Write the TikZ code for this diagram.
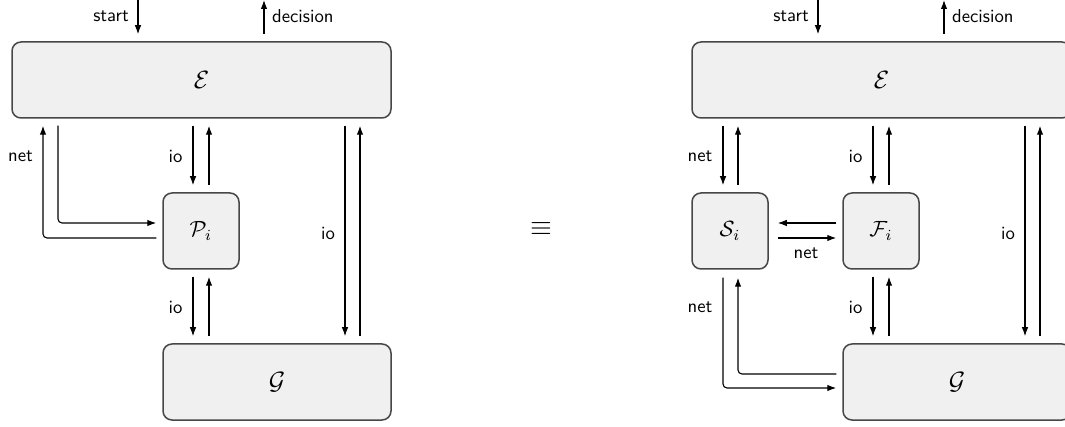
\documentclass[tikz,border=0pt]{standalone}
\usepackage{graphicx}
\usetikzlibrary{arrows.meta,calc}
\newcommand{\lbltext}[1]{\scalebox{1.87}{\sffamily #1}}
\newcommand{\boxmath}[1]{\scalebox{2.2}{$#1$}}
\newcommand{\bigmath}[1]{\scalebox{2.5}{$#1$}}
\tikzset{
  blk/.style={draw=black!72, line width=1.5pt, fill=black!6, rounded corners=9pt, inner sep=0pt},
  arr/.style={draw=black, line width=1.1pt, -{Latex[length=9pt,width=6.5pt]}},
  gap/.style={shorten <=7pt, shorten >=7pt},
  lbl/.style={inner sep=2pt},
}
\begin{document}
\begin{tikzpicture}[x=1pt,y=-1pt]
\useasboundingbox (0,0) rectangle (1065,427);
% ---------- left ----------
\node[blk, minimum width=379pt, minimum height=76pt] (E1) at (201.5,80) {\bigmath{\mathcal{E}}};
\node[blk, minimum width=76pt, minimum height=76pt] (P) at (201,231) {\boxmath{\mathcal{P}_i}};
\node[blk, minimum width=228pt, minimum height=76pt] (G1) at (277,382) {\bigmath{\mathcal{G}}};
\coordinate (s1) at (138,-2);
\coordinate (d1) at (264,0);
\draw[arr, shorten >=7pt] (s1) -- (s1 |- E1.north);
\draw[arr, shorten <=7pt] (d1 |- E1.north) -- (d1);
\node[lbl, anchor=east] at (131,16) {\lbltext{start}};
\node[lbl, anchor=west] at (270,16) {\lbltext{decision}};
% E <-> P io
\coordinate (pa) at (193,0); \coordinate (pb) at (209,0);
\draw[arr, gap] (pa |- E1.south) -- (pa |- P.north);
\draw[arr, gap] (pb |- P.north) -- (pb |- E1.south);
\draw[arr, gap] (pa |- P.south) -- (pa |- G1.north);
\draw[arr, gap] (pb |- G1.north) -- (pb |- P.south);
\node[lbl] at (175.5,156) {\lbltext{io}};
\node[lbl] at (175.5,307) {\lbltext{io}};
% long io
\coordinate (la) at (345,0); \coordinate (lb) at (360,0);
\draw[arr, gap] (la |- E1.south) -- (la |- G1.north);
\draw[arr, gap] (lb |- G1.north) -- (lb |- E1.south);
\node[lbl] at (328,233) {\lbltext{io}};
% net loop
\coordinate (n1) at (43,238); \coordinate (n2) at (58,223);
\draw[arr, rounded corners=4pt, shorten <=6pt, shorten >=7pt] (P.west |- n1) -- (n1) -- (n1 |- E1.south);
\draw[arr, rounded corners=4pt, shorten <=7pt, shorten >=6pt] (n2 |- E1.south) -- (n2) -- (P.west |- n2);
\node[lbl] at (20.5,156) {\lbltext{net}};
% equivalence
\node[inner sep=0pt] (eq) at (541,229) {\scalebox{2.8}{$\equiv$}};
% ---------- right ----------
\node[blk, minimum width=379pt, minimum height=76pt] (E2) at (881.5,80) {\bigmath{\mathcal{E}}};
\node[blk, minimum width=76pt, minimum height=76pt] (S) at (730,231) {\boxmath{\mathcal{S}_i}};
\node[blk, minimum width=76pt, minimum height=76pt] (F) at (881,231) {\boxmath{\mathcal{F}_i}};
\node[blk, minimum width=228pt, minimum height=76pt] (G2) at (957,382) {\bigmath{\mathcal{G}}};
\coordinate (s2) at (818,-2);
\coordinate (d2) at (944,0);
\draw[arr, shorten >=7pt] (s2) -- (s2 |- E2.north);
\draw[arr, shorten <=7pt] (d2 |- E2.north) -- (d2);
\node[lbl, anchor=east] at (811,16) {\lbltext{start}};
\node[lbl, anchor=west] at (950,16) {\lbltext{decision}};
% E <-> S net
\coordinate (sa) at (723,0); \coordinate (sb) at (738,0);
\draw[arr, gap] (sa |- E2.south) -- (sa |- S.north);
\draw[arr, gap] (sb |- S.north) -- (sb |- E2.south);
\node[lbl] at (700,156) {\lbltext{net}};
% E <-> F io, F <-> G io
\coordinate (fa) at (873,0); \coordinate (fb) at (889,0);
\draw[arr, gap] (fa |- E2.south) -- (fa |- F.north);
\draw[arr, gap] (fb |- F.north) -- (fb |- E2.south);
\draw[arr, gap] (fa |- F.south) -- (fa |- G2.north);
\draw[arr, gap] (fb |- G2.north) -- (fb |- F.south);
\node[lbl] at (855.5,156) {\lbltext{io}};
\node[lbl] at (855.5,307) {\lbltext{io}};
% long io
\coordinate (ra) at (1025,0); \coordinate (rb) at (1040,0);
\draw[arr, gap] (ra |- E2.south) -- (ra |- G2.north);
\draw[arr, gap] (rb |- G2.north) -- (rb |- E2.south);
\node[lbl] at (1008,233) {\lbltext{io}};
% S <-> F net
\coordinate (h1) at (0,223); \coordinate (h2) at (0,238);
\draw[arr, shorten <=6pt, shorten >=9pt] (F.west |- h1) -- (S.east |- h1);
\draw[arr, shorten <=9pt, shorten >=6pt] (S.east |- h2) -- (F.west |- h2);
\node[lbl] at (806,253) {\lbltext{net}};
% S <-> G net
\coordinate (g1) at (723,388); \coordinate (g2) at (738,374);
\draw[arr, rounded corners=4pt, shorten <=8pt, shorten >=6pt] (g1 |- S.south) -- (g1) -- (G2.west |- g1);
\draw[arr, rounded corners=4pt, shorten <=6pt, shorten >=8pt] (G2.west |- g2) -- (g2) -- (g2 |- S.south);
\node[lbl] at (700,307) {\lbltext{net}};
\end{tikzpicture}
\end{document}
